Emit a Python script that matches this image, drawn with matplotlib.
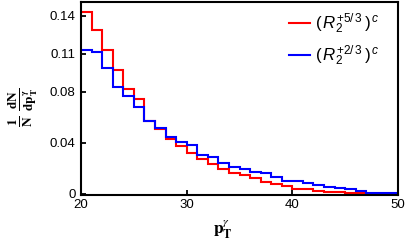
import matplotlib
matplotlib.use("Agg")
import matplotlib.pyplot as plt
import numpy as np

plt.rcParams['mathtext.fontset'] = 'custom'
plt.rcParams['mathtext.rm'] = 'Liberation Sans'
plt.rcParams['mathtext.it'] = 'Liberation Sans:italic'
plt.rcParams['mathtext.bf'] = 'Liberation Sans:bold'
plt.rcParams['font.family'] = ['Liberation Sans', 'DejaVu Sans']

bin_edges = list(range(20, 51))
red_values = [0.1427, 0.1284, 0.1129, 0.0973, 0.0820, 0.0744, 0.0573, 0.0510, 0.0435, 0.0379,
              0.0319, 0.0272, 0.0233, 0.0194, 0.0162, 0.0147, 0.0123, 0.0096, 0.0081, 0.0065,
              0.0042, 0.0037, 0.0026, 0.0018, 0.0013, 0.0008, 0.0006, 0.0003, 0.0002, 0.0001]
blue_values = [0.1133, 0.1110, 0.0986, 0.0841, 0.0769, 0.0686, 0.0575, 0.0515, 0.0449, 0.0404,
               0.0384, 0.0306, 0.0288, 0.0245, 0.0214, 0.0194, 0.0175, 0.0162, 0.0136, 0.0104,
               0.0104, 0.0089, 0.0071, 0.0057, 0.0047, 0.0037, 0.0024, 0.0010, 0.0006, 0.0004]
labels = [r'$(\,R_2^{+5/\,3}\,)^{\,c}$', r'$(\,R_2^{+2/\,3}\,)^{\,c}$']
colors = ['#ff0000', '#0000ff']
xticks = [20, 30, 40, 50]
yticks = [0, 0.04, 0.08, 0.11, 0.14]
ytick_labels = ['0', '0.04', '0.08', '0.11', '0.14']

fig = plt.figure(figsize=(4.08, 2.43), dpi=100)
ax = fig.add_axes([81/408, 1-195/243, (398-81)/408, (195-2)/243])

ax.stairs(red_values, bin_edges, baseline=None, color=colors[0], lw=1.5, label=labels[0])
ax.stairs(blue_values, bin_edges, baseline=None, color=colors[1], lw=1.5, label=labels[1])

ax.set_xlim(20, 50)
ax.set_ylim(-0.0008, 0.1506)
ax.set_xticks(xticks)
ax.set_xticklabels([str(v) for v in xticks])
ax.set_yticks(yticks)
ax.set_yticklabels(ytick_labels)
ax.tick_params(direction='in', length=3.5, width=1.3, labelsize=9.5, pad=3)
ax.tick_params(axis='y', pad=4)
for s in ax.spines.values():
    s.set_linewidth(1.5)

leg = ax.legend(loc='upper left', frameon=False,
                fontsize=12.2, handlelength=1.25, handletextpad=0.3, labelspacing=0.45,
                borderaxespad=0.0, borderpad=0.0)
leg.set_bbox_to_anchor((289/408, 1-12/243), transform=fig.transFigure)
for line in leg.get_lines():
    line.set_linewidth(1.5)

fig.text(223/408, 1-230/243, r'$\mathbf{p}_{\mathbf{T}}^{\gamma}$', math_fontfamily='stix',
         fontsize=12.5, ha='center', va='center')
fig.text(23/408, 1-107/243, r'$\mathbf{\frac{1}{N}\ \frac{dN}{dp_T^{\gamma}}}$',
         math_fontfamily='stix', fontsize=13.5, rotation=90, ha='center', va='center')

fig.savefig('out.png', dpi=100)
